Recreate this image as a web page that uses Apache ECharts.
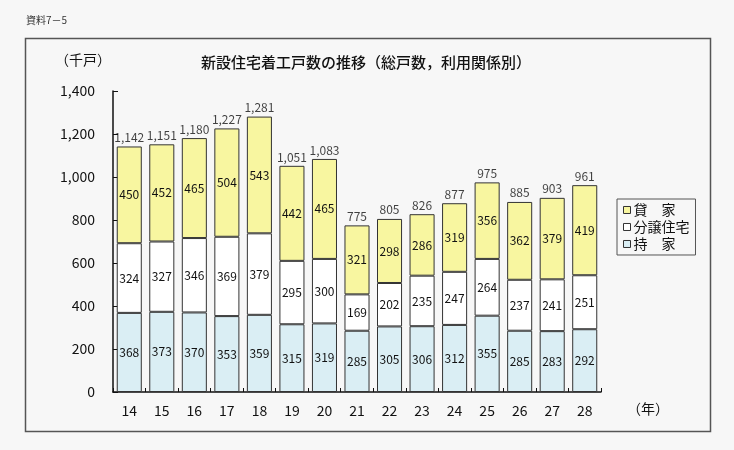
<!DOCTYPE html>
<html>
<head>
<meta charset="utf-8">
<script src="https://cdn.jsdelivr.net/npm/echarts@6/dist/echarts.min.js"></script>
<style>
  html,body{margin:0;padding:0;background:#f7f7f7;}
  #box{width:734px;height:450px;}
</style>
</head>
<body>
<div id="box"></div>
<script>
var years = ['14','15','16','17','18','19','20','21','22','23','24','25','26','27','28'];
var mochiie = [368,373,370,353,359,315,319,285,305,306,312,355,285,283,292];
var bunjo = [324,327,346,369,379,295,300,169,202,235,247,264,237,241,251];
var kashiya = [450,452,465,504,543,442,465,321,298,286,319,356,362,379,419];
var totals = [1142,1151,1180,1227,1281,1051,1083,775,805,826,877,975,885,903,961];

var font = '"Noto Sans CJK JP", sans-serif';

var fmtComma = function(v){
  return String(v).replace(/\B(?=(\d{3})+(?!\d))/g, ',');
};

var barSeries = function(name, data, color){
  return {
    name: name,
    type: 'bar',
    stack: 'all',
    barWidth: '77%',
    data: data,
    itemStyle: {color: color, borderColor: '#333', borderWidth: 1},
    label: {show: true, position: 'inside', color: '#111', fontSize: 12, fontFamily: font}
  };
};

var mychart = echarts.init(document.getElementById('box'));
mychart.setOption({
  backgroundColor: '#f7f7f7',
  animation: false,
  textStyle: {fontFamily: font},
  title: {
    text: '新設住宅着工戸数の推移（総戸数，利用関係別）',
    left: 196, top: 50,
    textStyle: {fontSize: 15, fontWeight: 500, color: '#111', fontFamily: font}
  },
  graphic: [
    {type: 'text', left: 26, top: 15, style: {text: '資料7－5', fontSize: 10, fill: '#333', fontFamily: font}},
    {type: 'rect', shape: {x: 25.5, y: 38.5, width: 685, height: 393}, style: {fill: null, stroke: '#555', lineWidth: 1.5}, z: -1},
    {type: 'text', left: 55, top: 53, style: {text: '（千戸）', fontSize: 14, fill: '#111', fontFamily: font}},
    {type: 'text', left: 627, top: 402, style: {text: '（年）', fontSize: 14, fill: '#111', fontFamily: font}}
  ],
  legend: {
    data: ['貸　家', '分譲住宅', '持　家'],
    orient: 'vertical',
    left: 617, top: 199,
    padding: [4, 6, 4, 6],
    itemGap: 3,
    itemWidth: 7, itemHeight: 7,
    borderColor: '#555', borderWidth: 1,
    icon: 'rect',
    itemStyle: {borderColor: '#333', borderWidth: 1},
    textStyle: {fontSize: 14, color: '#111', fontFamily: font, padding: [0, 0, 0, -2]}
  },
  grid: {left: 113, right: 133, top: 91, bottom: 58},
  xAxis: {
    type: 'category',
    data: years,
    axisLine: {lineStyle: {color: '#111', width: 1.5}},
    axisTick: {show: true, inside: true, length: 4, lineStyle: {color: '#111'}},
    axisLabel: {fontSize: 14, color: '#111', margin: 12}
  },
  yAxis: {
    type: 'value',
    min: 0, max: 1400, interval: 200,
    splitLine: {show: false},
    axisLine: {show: true, lineStyle: {color: '#111', width: 1.5}},
    axisTick: {show: true, inside: true, length: 5, lineStyle: {color: '#111'}},
    axisLabel: {fontSize: 14, color: '#111', margin: 18, formatter: fmtComma}
  },
  series: [
    barSeries('持　家', mochiie, '#daeef4'),
    barSeries('分譲住宅', bunjo, '#ffffff'),
    barSeries('貸　家', kashiya, '#f8f6a0'),
    {
      name: '合計',
      type: 'scatter',
      data: totals,
      symbolSize: 0,
      label: {show: true, position: 'top', distance: 3, color: '#111', fontSize: 12, fontFamily: font,
        formatter: function(p){ return fmtComma(p.value); }}
    }
  ]
});
</script>
</body>
</html>
